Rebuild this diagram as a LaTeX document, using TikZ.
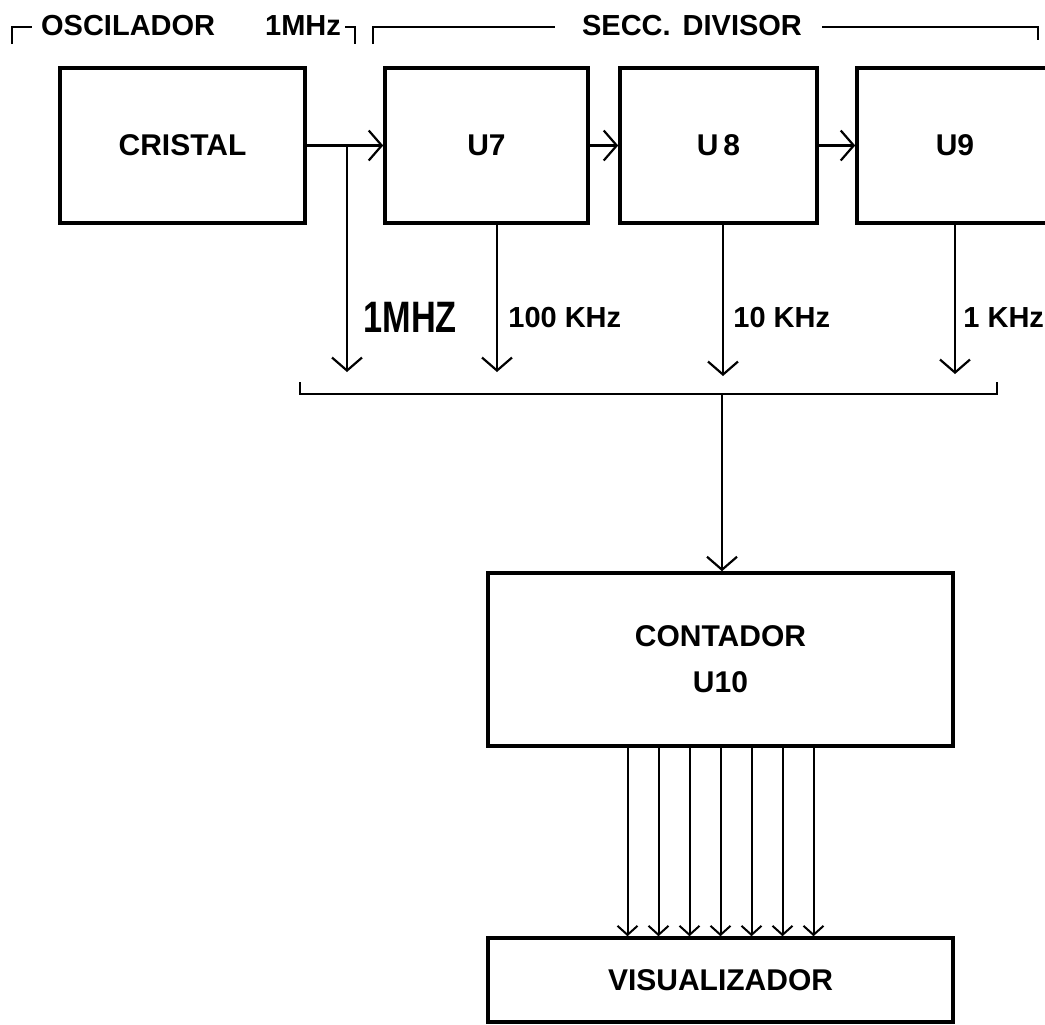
\documentclass[tikz,border=0pt]{standalone}
\usepackage{fontspec}
\setmainfont{Liberation Sans}
\newfontfamily\narrowfont[FakeStretch=0.78]{Liberation Sans}
\usepackage{tikz}
\usetikzlibrary{arrows.meta}

\tikzset{
  blk/.style={draw,line width=1.8pt,fill=white,inner sep=0pt,align=center,
    minimum height=77.5pt,font=\fontsize{15}{18}\selectfont\bfseries},
  arr/.style={line width=1.1pt,-{Straight Barb[length=6.5pt,width=15pt,line width=1.1pt]}},
  arrs/.style={line width=1pt,-{Straight Barb[length=4.5pt,width=10pt,line width=1pt]}},
  frq/.style={anchor=west,inner sep=0pt,font=\fontsize{14.5}{17}\selectfont\bfseries},
  hdr/.style={inner sep=0pt,font=\fontsize{14.5}{17}\selectfont\bfseries},
  brk/.style={line width=1pt}
}

\begin{document}
\begin{tikzpicture}[x=0.5pt,y=-0.5pt]
    \useasboundingbox (0,0) rectangle (1045,1024);
    \clip (0,0) rectangle (1045,1024);
    \node[hdr] (osc) at (191,26) {OSCILADOR\hspace{25pt}1MHz};
    \node[hdr] (sec) at (692,26) {SECC.\hspace{6pt}DIVISOR};
    \draw[brk] (12,44) |- (32,27);
    \draw[brk] (345,27) -| (355,44);
    \draw[brk] (373,44) |- (555,27);
    \draw[brk] (822,27) -| (1038,40);
    \node[blk,minimum width=122.5pt] (cris) at (182.5,145.5) {CRISTAL};
    \node[blk,minimum width=101.5pt] (u7) at (486.5,145.5) {U7};
    \node[blk,minimum width=98.5pt] (u8) at (718.5,145.5) {U\,8};
    \node[blk,minimum width=98pt] (u9) at (955,145.5) {U9};
    \node[blk,minimum width=232.5pt,minimum height=86.5pt] (ctr) at (720.5,659.5) {CONTADOR\\[5pt]U10};
    \node[blk,minimum width=232.5pt,minimum height=42pt] (vis) at (720.5,980) {VISUALIZADOR};
    \coordinate (t1) at (347,372);
    \coordinate (t2) at (497,372);
    \coordinate (t3) at (723,376);
    \coordinate (t4) at (955,374);
    \coordinate (bm) at (722,394);
    \draw[arr] (cris.east) -- (u7.west);
    \draw[arr] (u7.east) -- (u8.west);
    \draw[arr] (u8.east) -- (u9.west);
    \draw[arr] (cris.east -| t1) -- (t1);
    \draw[arr] (u7.south -| t2) -- (t2);
    \draw[arr] (u8.south -| t3) -- (t3);
    \draw[arr] (u9.south -| t4) -- (t4);
    \node[frq,font=\narrowfont\fontsize{22}{24}\selectfont\bfseries] (f1) at (363,317) {1MHZ};
    \node[frq] (f2) at (508,318) {100 KHz};
    \node[frq] (f3) at (733,318) {10 KHz};
    \node[frq] (f4) at (963,318) {1 KHz};
    \draw[line width=1.3pt] (300,382) |- (bm) -| (997,382);
    \draw[arr] (bm) -- (bm |- ctr.north);
    \foreach \i in {-3,...,3}
      \draw[arrs] ([xshift=\i*15.5pt]ctr.south) -- ([xshift=\i*15.5pt]vis.north);
\end{tikzpicture}
\end{document}
